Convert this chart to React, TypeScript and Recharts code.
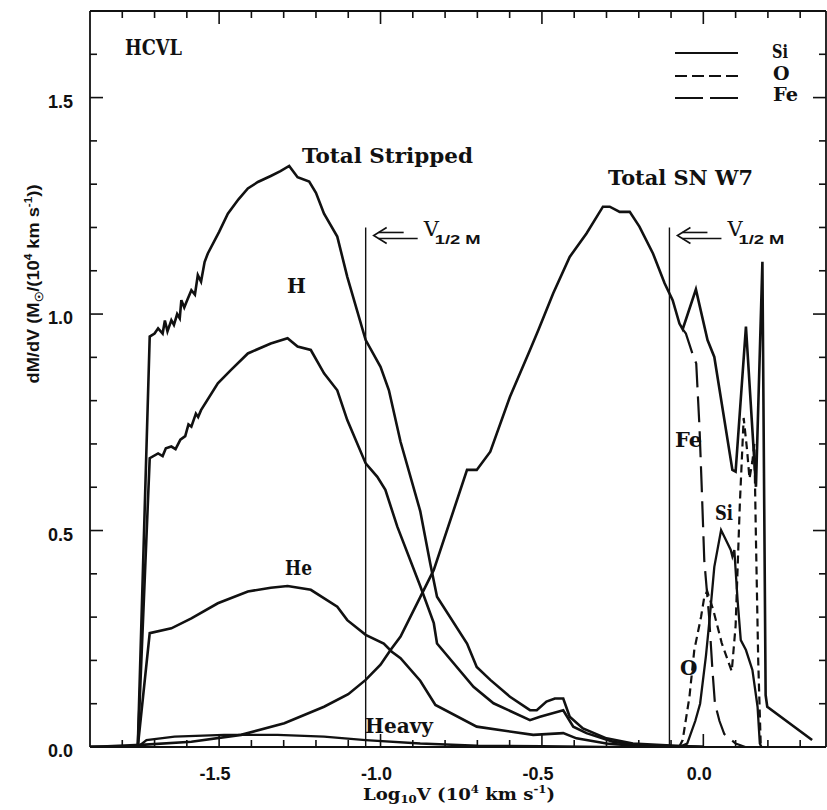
import React from "react";
import { LineChart, Line, XAxis, YAxis, ReferenceLine } from "recharts";

type Pt = { x: number; y: number };
const pts = (a: number[][]): Pt[] => a.map(([x, y]) => ({ x, y }));

// stripped companion envelope (Log10 V, dM/dV)
const totalStripped = pts([
  [-1.9, 0], [-1.752, 0], [-1.715, 0.948], [-1.7, 0.955], [-1.689, 0.967], [-1.675, 0.955],
  [-1.668, 0.985], [-1.66, 0.96], [-1.648, 0.986], [-1.64, 0.975], [-1.63, 1.0], [-1.622, 0.99],
  [-1.617, 1.032], [-1.608, 1.015], [-1.6, 1.03], [-1.586, 1.055], [-1.575, 1.045], [-1.566, 1.09],
  [-1.556, 1.075], [-1.545, 1.12], [-1.535, 1.14], [-1.5, 1.19], [-1.473, 1.232], [-1.44, 1.265],
  [-1.411, 1.29], [-1.38, 1.305], [-1.34, 1.319], [-1.31, 1.33], [-1.283, 1.342], [-1.257, 1.316],
  [-1.221, 1.306], [-1.2, 1.28], [-1.175, 1.232], [-1.134, 1.179], [-1.103, 1.086], [-1.046, 0.94],
  [-1.0, 0.878], [-0.974, 0.824], [-0.938, 0.705], [-0.877, 0.545], [-0.846, 0.424], [-0.825, 0.347],
  [-0.732, 0.239], [-0.702, 0.185], [-0.66, 0.155], [-0.599, 0.116], [-0.537, 0.085], [-0.516, 0.085],
  [-0.486, 0.105], [-0.46, 0.112], [-0.434, 0.112], [-0.414, 0.07], [-0.373, 0.043], [-0.3, 0.02],
  [-0.218, 0.008], [-0.115, 0.004], [0, 0],
]);

const hydrogen = pts([
  [-1.9, 0], [-1.752, 0], [-1.715, 0.667], [-1.689, 0.678], [-1.675, 0.672], [-1.665, 0.69],
  [-1.648, 0.694], [-1.635, 0.688], [-1.62, 0.71], [-1.605, 0.718], [-1.595, 0.745], [-1.586, 0.74],
  [-1.572, 0.77], [-1.565, 0.762], [-1.556, 0.778], [-1.504, 0.84], [-1.463, 0.871], [-1.411, 0.909],
  [-1.34, 0.932], [-1.288, 0.944], [-1.257, 0.925], [-1.216, 0.917], [-1.175, 0.863], [-1.134, 0.824],
  [-1.103, 0.755], [-1.046, 0.655], [-1.01, 0.624], [-0.985, 0.594], [-0.948, 0.509], [-0.877, 0.372],
  [-0.835, 0.286], [-0.825, 0.239], [-0.712, 0.139], [-0.65, 0.101], [-0.537, 0.062], [-0.506, 0.07],
  [-0.434, 0.085], [-0.403, 0.047], [-0.362, 0.032], [-0.28, 0.012], [-0.2, 0.004], [0, 0],
]);

const helium = pts([
  [-1.9, 0], [-1.752, 0], [-1.715, 0.263], [-1.648, 0.274], [-1.586, 0.297], [-1.504, 0.332],
  [-1.411, 0.359], [-1.34, 0.368], [-1.288, 0.372], [-1.216, 0.363], [-1.134, 0.324], [-1.103, 0.293],
  [-1.046, 0.259], [-0.99, 0.239], [-0.965, 0.22], [-0.938, 0.205], [-0.877, 0.153], [-0.83, 0.097],
  [-0.702, 0.047], [-0.527, 0.028], [-0.434, 0.032], [-0.393, 0.02], [-0.3, 0.008], [-0.2, 0.002], [0, 0],
]);

const heavy = pts([
  [-1.9, 0], [-1.752, 0], [-1.725, 0.016], [-1.638, 0.024], [-1.484, 0.028], [-1.319, 0.028],
  [-1.175, 0.024], [-1.046, 0.016], [-0.877, 0.008], [-0.7, 0.003], [-0.5, 0.002], [-0.3, 0], [0, 0],
]);

// W7 supernova ejecta
const totalSN = pts([
  [-1.9, 0], [-1.741, 0.005], [-1.586, 0.012], [-1.432, 0.028], [-1.298, 0.055], [-1.175, 0.093],
  [-1.1, 0.122], [-1.046, 0.155], [-1.0, 0.19], [-0.969, 0.224], [-0.938, 0.255], [-0.877, 0.346],
  [-0.835, 0.409], [-0.732, 0.64], [-0.702, 0.64], [-0.66, 0.682], [-0.599, 0.809], [-0.537, 0.917],
  [-0.511, 0.963], [-0.465, 1.048], [-0.414, 1.132], [-0.362, 1.186], [-0.311, 1.248], [-0.29, 1.248],
  [-0.259, 1.236], [-0.228, 1.236], [-0.198, 1.202], [-0.156, 1.14], [-0.12, 1.071], [-0.095, 1.032],
  [-0.074, 0.978], [-0.064, 0.965], [-0.023, 1.057], [0.013, 0.94], [0.034, 0.901], [0.09, 0.64],
  [0.1, 0.636], [0.132, 0.971], [0.163, 0.601], [0.183, 1.121], [0.193, 0.12], [0.198, 0.093],
  [0.337, 0.016],
]);

const iron = pts([
  [-0.064, 0.965], [-0.054, 0.955], [-0.03, 0.9], [-0.022, 0.886], [-0.012, 0.74], [-0.005, 0.6],
  [0.003, 0.43], [0.018, 0.3], [0.028, 0.18], [0.036, 0.1], [0.05, 0.06], [0.065, 0.03],
  [0.1, 0.008], [0.13, 0],
]);

const oxygen = pts([
  [-0.075, 0], [-0.064, 0.016], [-0.043, 0.116], [-0.028, 0.224], [-0.007, 0.301], [0.003, 0.347],
  [0.012, 0.36], [0.031, 0.316], [0.057, 0.24], [0.088, 0.175], [0.1, 0.28], [0.113, 0.56],
  [0.125, 0.76], [0.135, 0.69], [0.143, 0.62], [0.152, 0.66], [0.158, 0.7], [0.163, 0.48],
  [0.17, 0.2], [0.178, 0],
]);

const silicon = pts([
  [-0.075, 0], [-0.05, 0.008], [-0.025, 0.06], [-0.01, 0.1], [0.008, 0.21], [0.02, 0.3],
  [0.034, 0.416], [0.055, 0.501], [0.085, 0.455], [0.09, 0.44], [0.096, 0.455], [0.106, 0.34],
  [0.116, 0.247], [0.132, 0.224], [0.152, 0.178], [0.168, 0.093], [0.175, 0.008], [0.18, 0],
]);

// half-mass velocities
const vHalf = [-1.046, -0.105];
const vHalfTop = 1.2;

const xTicks = [-1.8, -1.7, -1.6, -1.5, -1.4, -1.3, -1.2, -1.1, -1.0, -0.9, -0.8, -0.7, -0.6, -0.5,
  -0.4, -0.3, -0.2, -0.1, 0.0, 0.1, 0.2, 0.3];
const xMajor = [-1.5, -1.0, -0.5, 0.0];
const yTicks = [0.0, 0.1, 0.2, 0.3, 0.4, 0.5, 0.6, 0.7, 0.8, 0.9, 1.0, 1.1, 1.2, 1.3, 1.4, 1.5, 1.6];
const yMajor = [0.0, 0.5, 1.0, 1.5];

const W = 827;
const H = 810;
const INK = "#111";

const isMajor = (v: number, m: number[]) => m.some((t) => Math.abs(t - v) < 1e-6);
const tickFont: React.CSSProperties = { fontFamily: "Liberation Sans, Arial", fontWeight: 700, fontSize: 18 };
const serif = "DejaVu Serif";

function BottomTick(props: any) {
  const { x, y, payload } = props;
  const major = isMajor(payload.value, xMajor);
  return (
    <g>
      <line x1={x} x2={x} y1={y} y2={y - (major ? 13 : 7)} stroke={INK} strokeWidth={1.6} />
      {major && (
        <text x={x - 4} y={y + 33} textAnchor="middle" fill={INK} style={tickFont}>
          {payload.value.toFixed(1)}
        </text>
      )}
    </g>
  );
}

function TopTick(props: any) {
  const { x, y, payload } = props;
  const major = isMajor(payload.value, xMajor);
  return <line x1={x} x2={x} y1={y} y2={y + (major ? 13 : 7)} stroke={INK} strokeWidth={1.6} />;
}

function LeftTick(props: any) {
  const { x, y, payload } = props;
  const major = isMajor(payload.value, yMajor);
  return (
    <g>
      <line x1={x} x2={x + (major ? 13 : 7)} y1={y} y2={y} stroke={INK} strokeWidth={1.6} />
      {major && (
        <text x={x - 17} y={y + 10} textAnchor="end" fill={INK} style={tickFont}>
          {payload.value.toFixed(1)}
        </text>
      )}
    </g>
  );
}

function RightTick(props: any) {
  const { x, y, payload } = props;
  const major = isMajor(payload.value, yMajor);
  return <line x1={x} x2={x - (major ? 13 : 7)} y1={y} y2={y} stroke={INK} strokeWidth={1.6} />;
}

function HalfMassLabel(props: any) {
  const { viewBox } = props;
  const x0 = viewBox.x + 8;
  const y0 = viewBox.y + 8;
  return (
    <g stroke={INK} fill="none" strokeWidth={1.6}>
      <path d={`M${x0 + 13},${y0 - 8} L${x0},${y0} L${x0 + 13},${y0 + 8}`} />
      <line x1={x0 + 5} x2={x0 + 30} y1={y0 - 3} y2={y0 - 3} />
      <line x1={x0 + 5} x2={x0 + 44} y1={y0 + 3} y2={y0 + 3} />
      <text x={x0 + 50} y={y0 + 1} stroke="none" fill={INK} fontFamily={serif} fontSize={21}>V</text>
      <text x={x0 + 61} y={y0 + 9} stroke="none" fill={INK} fontFamily="Liberation Sans" fontWeight={700}
        fontSize={12} textLength={46} lengthAdjust="spacingAndGlyphs">1/2 M</text>
    </g>
  );
}

const lbl = { fontFamily: serif, fontWeight: 700 as const, fill: INK };

export default function App() {
  return (
    <div style={{ position: "absolute", left: 0, top: 0, width: W, height: H, background: "#fff" }}>
      <LineChart width={W} height={H} margin={{ top: 0, right: 0, bottom: 0, left: 0 }}>
        <XAxis xAxisId="b" dataKey="x" type="number" domain={[-1.9, 0.38]} allowDataOverflow
          ticks={xTicks} interval={0} tickSize={0} tickMargin={0} tickLine={false} tick={BottomTick}
          height={63} axisLine={{ stroke: INK, strokeWidth: 1.8 }} />
        <XAxis xAxisId="t" orientation="top" dataKey="x" type="number" domain={[-1.9, 0.38]} allowDataOverflow
          ticks={xTicks} interval={0} tickSize={0} tickMargin={0} tickLine={false} tick={TopTick}
          height={11} axisLine={{ stroke: INK, strokeWidth: 1.8 }} />
        <YAxis yAxisId="l" type="number" domain={[0, 1.7]} allowDataOverflow ticks={yTicks} interval={0}
          tickSize={0} tickMargin={0} tickLine={false} tick={LeftTick} width={90}
          axisLine={{ stroke: INK, strokeWidth: 1.8 }} />
        <YAxis yAxisId="r" orientation="right" type="number" domain={[0, 1.7]} allowDataOverflow ticks={yTicks}
          interval={0} tickSize={0} tickMargin={0} tickLine={false} tick={RightTick} width={1}
          axisLine={{ stroke: INK, strokeWidth: 1.8 }} />

        {vHalf.map((v) => (
          <ReferenceLine key={v} xAxisId="b" yAxisId="l" segment={[{ x: v, y: 0 }, { x: v, y: vHalfTop }]}
            stroke={INK} strokeWidth={1.4} label={<HalfMassLabel />} ifOverflow="visible" />
        ))}

        <Line xAxisId="b" yAxisId="l" data={heavy} dataKey="y" type="linear" stroke={INK} strokeWidth={2.4}
          dot={false} isAnimationActive={false} />
        <Line xAxisId="b" yAxisId="l" data={helium} dataKey="y" type="linear" stroke={INK} strokeWidth={2.6}
          dot={false} isAnimationActive={false} />
        <Line xAxisId="b" yAxisId="l" data={hydrogen} dataKey="y" type="linear" stroke={INK} strokeWidth={2.6}
          dot={false} isAnimationActive={false} />
        <Line xAxisId="b" yAxisId="l" data={totalStripped} dataKey="y" type="linear" stroke={INK} strokeWidth={2.6}
          dot={false} isAnimationActive={false} />
        <Line xAxisId="b" yAxisId="l" data={totalSN} dataKey="y" type="linear" stroke={INK} strokeWidth={2.6}
          dot={false} isAnimationActive={false} />
        <Line xAxisId="b" yAxisId="l" data={silicon} dataKey="y" type="linear" stroke={INK} strokeWidth={2.3}
          dot={false} isAnimationActive={false} />
        <Line xAxisId="b" yAxisId="l" data={oxygen} dataKey="y" type="linear" stroke={INK} strokeWidth={2.2}
          strokeDasharray="8 5" dot={false} isAnimationActive={false} />
        <Line xAxisId="b" yAxisId="l" data={iron} dataKey="y" type="linear" stroke={INK} strokeWidth={2.2}
          strokeDasharray="26 9" dot={false} isAnimationActive={false} />
      </LineChart>

      <svg width={W} height={H} style={{ position: "absolute", left: 0, top: 0, pointerEvents: "none" }}>
        <text x={125} y={55} fontSize={22} textLength={57} lengthAdjust="spacingAndGlyphs" {...lbl}>HCVL</text>
        <text x={302} y={163} fontSize={20} textLength={171} lengthAdjust="spacingAndGlyphs" {...lbl}>Total Stripped</text>
        <text x={287} y={293} fontSize={20} {...lbl}>H</text>
        <text x={285} y={575} fontSize={20} textLength={27} lengthAdjust="spacingAndGlyphs" {...lbl}>He</text>
        <text x={365} y={733} fontSize={20} textLength={68} lengthAdjust="spacingAndGlyphs" {...lbl}>Heavy</text>
        <text x={608} y={185} fontSize={20} textLength={145} lengthAdjust="spacingAndGlyphs" {...lbl}>Total SN W7</text>
        <text x={675} y={447} fontSize={20} textLength={27} lengthAdjust="spacingAndGlyphs" {...lbl}>Fe</text>
        <text x={715} y={520} fontSize={20} textLength={18} lengthAdjust="spacingAndGlyphs" {...lbl}>Si</text>
        <text x={680} y={675} fontSize={20} {...lbl}>O</text>

        {/* legend */}
        <g stroke={INK} strokeWidth={2.2}>
          <line x1={675} x2={738} y1={53} y2={53} />
          <line x1={675} x2={738} y1={76} y2={76} strokeDasharray="12 5" />
          <line x1={675} x2={738} y1={98} y2={98} strokeDasharray="28 7" />
        </g>
        <text x={772} y={58} fontSize={19} textLength={16} lengthAdjust="spacingAndGlyphs" {...lbl}>Si</text>
        <text x={773} y={80} fontSize={19} {...lbl}>O</text>
        <text x={773} y={101} fontSize={19} textLength={25} lengthAdjust="spacingAndGlyphs" {...lbl}>Fe</text>

        {/* axis titles */}
        <text x={363} y={800} fontFamily={serif} fontWeight={700} fontSize={17} fill={INK}
          textLength={192} lengthAdjust="spacingAndGlyphs">
          Log<tspan fontSize={11} dy={3}>10</tspan><tspan dy={-3}>V (10</tspan><tspan fontSize={11} dy={-7}>4</tspan>
          <tspan dy={7}> km s</tspan><tspan fontSize={11} dy={-7}>-1</tspan><tspan dy={7}>)</tspan>
        </text>
        <text transform="translate(39,284) rotate(-90)" textAnchor="middle" fontFamily="Liberation Sans"
          fontWeight={700} fontSize={17} fill={INK} textLength={199} lengthAdjust="spacingAndGlyphs">
          dM/dV (M<tspan fontSize={11} dy={4}>☉</tspan><tspan dy={-4}>/(10</tspan><tspan fontSize={11} dy={-7}>4</tspan>
          <tspan dy={7}> km s</tspan><tspan fontSize={11} dy={-7}>-1</tspan><tspan dy={7}>))</tspan>
        </text>
      </svg>
    </div>
  );
}
